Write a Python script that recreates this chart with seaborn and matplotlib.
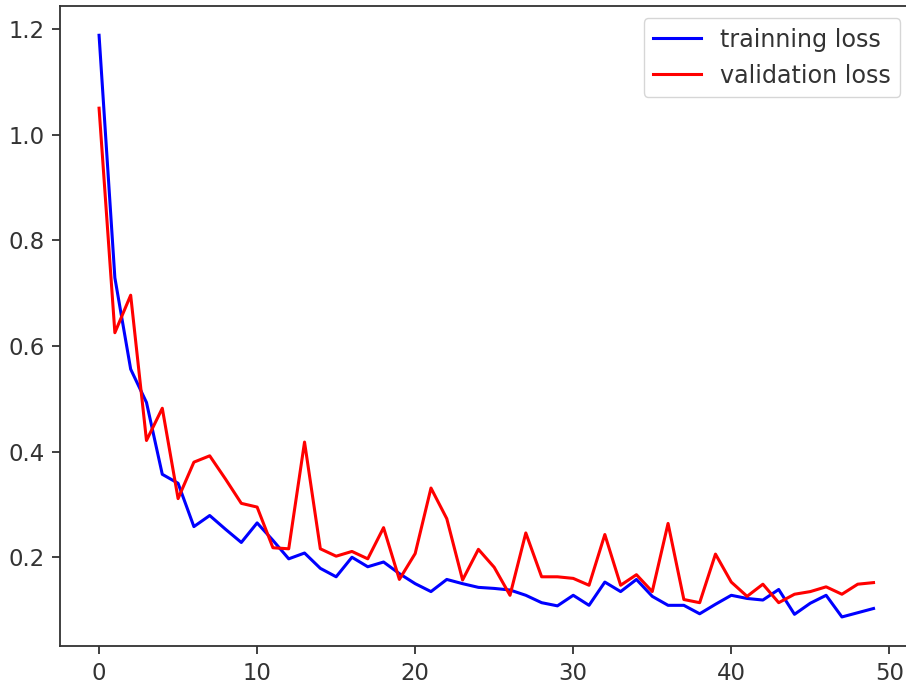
import numpy as np
import pandas as pd
import matplotlib
matplotlib.use("Agg")
import matplotlib.pyplot as plt
import seaborn as sns

# loss values
train_loss = [1.188, 0.729, 0.556, 0.493, 0.357, 0.340, 0.258, 0.279, 0.253, 0.228,
              0.265, 0.232, 0.197, 0.208, 0.179, 0.163, 0.200, 0.182, 0.191, 0.169,
              0.150, 0.135, 0.158, 0.150, 0.143, 0.141, 0.138, 0.128, 0.114, 0.108,
              0.128, 0.109, 0.153, 0.135, 0.158, 0.126, 0.109, 0.109, 0.093, 0.111,
              0.128, 0.122, 0.119, 0.139, 0.092, 0.113, 0.128, 0.087, 0.095, 0.103]
val_loss = [1.050, 0.625, 0.696, 0.421, 0.482, 0.311, 0.380, 0.392, 0.348, 0.302,
            0.295, 0.218, 0.216, 0.418, 0.216, 0.202, 0.211, 0.197, 0.256, 0.158,
            0.207, 0.331, 0.273, 0.157, 0.215, 0.181, 0.128, 0.246, 0.163, 0.163,
            0.160, 0.147, 0.243, 0.147, 0.167, 0.135, 0.264, 0.120, 0.114, 0.206,
            0.153, 0.126, 0.149, 0.114, 0.130, 0.135, 0.144, 0.130, 0.149, 0.152]
epochs = list(range(len(train_loss)))

# the reference looks like default matplotlib rendered at a higher dpi
scale = 1.64
plt.rcParams.update({
    "font.size": 10 * scale,
    "axes.linewidth": 0.8 * scale,
    "xtick.major.size": 3.5 * scale,
    "ytick.major.size": 3.5 * scale,
    "xtick.major.width": 0.8 * scale,
    "ytick.major.width": 0.8 * scale,
    "xtick.major.pad": 3.5 * scale,
    "ytick.major.pad": 3.5 * scale,
    "xtick.color": "#333333",
    "ytick.color": "#333333",
    "axes.edgecolor": "#333333",
})

fig = plt.figure(figsize=(9.06, 6.88), dpi=100)
ax = fig.add_axes([0.0666, 0.061, 0.9403, 0.930])

sns.lineplot(x=epochs, y=train_loss, color="blue", linewidth=2.2,
             label="trainning loss", ax=ax)
sns.lineplot(x=epochs, y=val_loss, color="red", linewidth=2.2,
             label="validation loss", ax=ax)

leg = ax.legend(loc="upper right", fontsize=17.2)
for t in leg.get_texts():
    t.set_color("#333333")

plt.savefig("out.png", dpi=100)
